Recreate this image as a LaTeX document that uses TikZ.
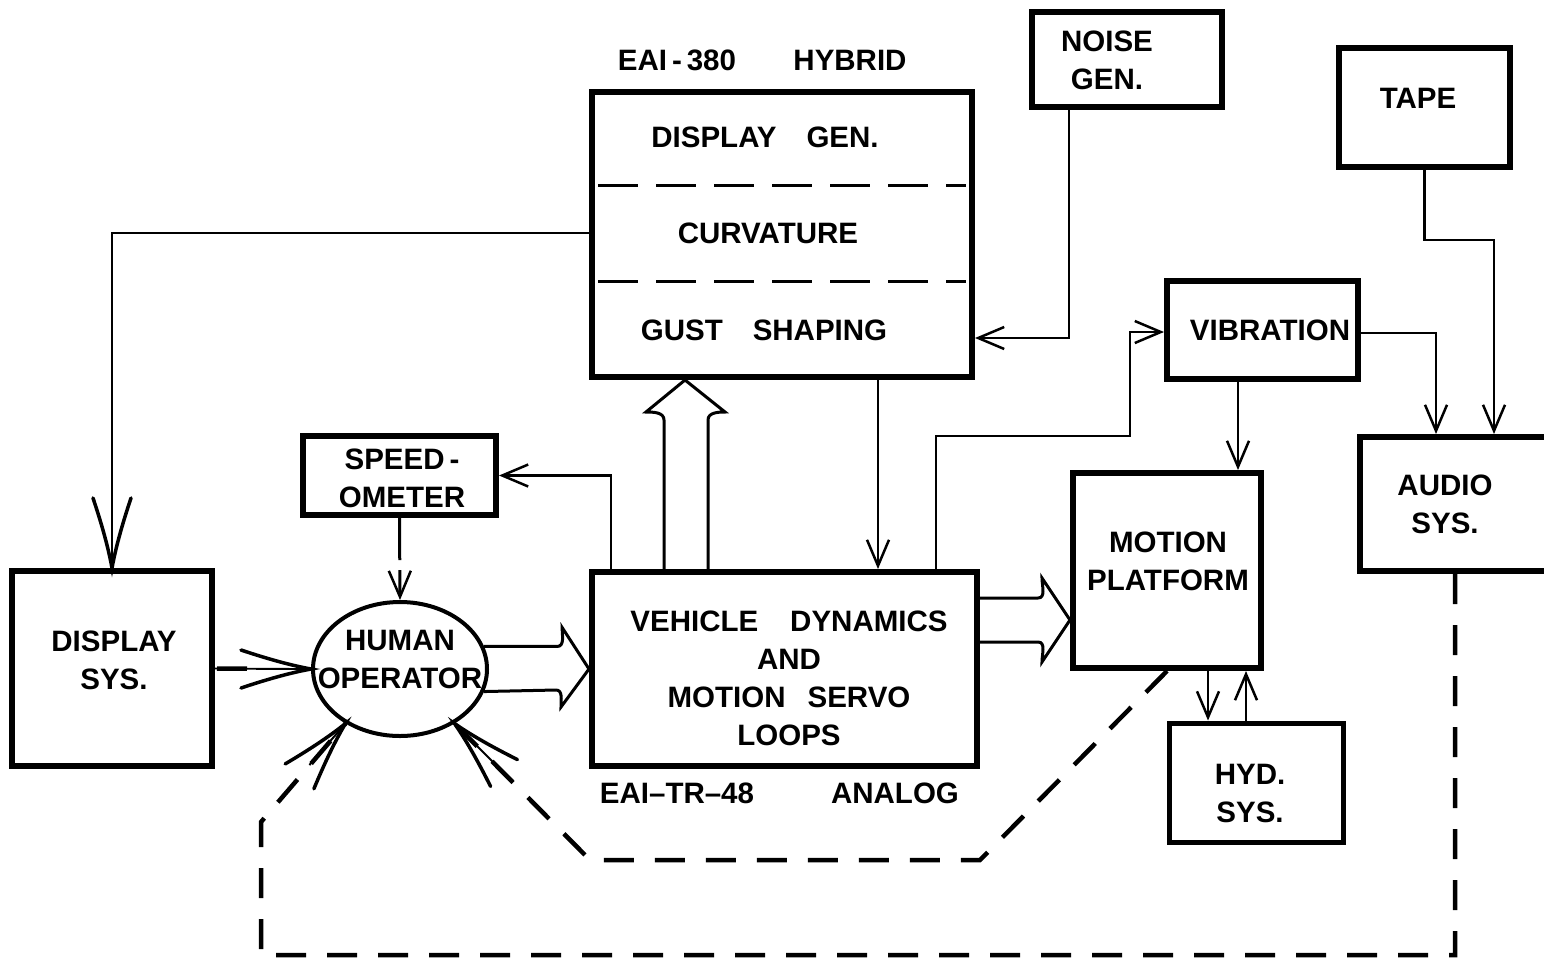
\documentclass[tikz,border=0pt]{standalone}
\usepackage{fontspec}
\setmainfont{Liberation Sans}
\usetikzlibrary{arrows.meta,calc,shapes.geometric}
\begin{document}
\begin{tikzpicture}[x=1pt,y=-1pt,
  box/.style={draw, line width=6pt, inner sep=0pt, rectangle},
  lbl/.style={font=\fontsize{29.5}{38}\selectfont\bfseries, align=center, inner sep=0pt},
  conn/.style={line width=2.5pt, -{Straight Barb[length=26pt,width=22pt,line width=2.5pt]}},
  plain/.style={line width=2.5pt},
  hollow/.style={line width=3pt, line join=miter},
  loopdash/.style={line width=4.5pt, dash pattern=on 30pt off 21pt},
  bigbarb/.pic={\draw[solid, line width=3.5pt, line cap=round] (-70,-19) .. controls (-46,-11) and (-22,-4) .. (0,0) .. controls (-22,4) and (-46,11) .. (-70,19);
                \draw[solid, line width=2pt] (-55,0) -- (0,0);}
]
\fill[white] (0,0) rectangle (1544,959);
\useasboundingbox (0,0) rectangle (1544,959);

% boxes
\node[box, minimum width=380pt, minimum height=285pt] (hyb) at (782,234.5) {};
\node[box, minimum width=190pt, minimum height=95pt] (noise) at (1127,59.5) {};
\node[box, minimum width=171pt, minimum height=119pt] (tape) at (1424.5,107.5) {};
\node[box, minimum width=191pt, minimum height=98pt] (vib) at (1262.5,330) {};
\node[box, minimum width=193pt, minimum height=79pt] (speedo) at (399.5,475.5) {};
\node[box, minimum width=200pt, minimum height=195pt] (dsys) at (112,668.5) {};
\node[box, minimum width=385pt, minimum height=194pt] (veh) at (784.5,669) {};
\node[box, minimum width=188pt, minimum height=195pt] (mp) at (1167,570.5) {};
\node[box, line width=5pt, minimum width=174pt, minimum height=119pt] (hyd) at (1256,782.5) {};
\node[box, minimum width=190pt, minimum height=134pt] (audio) at (1455,504) {};
\node[draw, ellipse, line width=4pt, inner sep=0pt, minimum width=174pt, minimum height=134pt] (human) at (400,669) {};

% hybrid dividers
\draw[line width=3pt, dash pattern=on 40pt off 18pt] ($(hyb.west)+(9,-49.5)$) -- ($(hyb.east)+(-9,-49.5)$);
\draw[line width=3pt, dash pattern=on 40pt off 18pt] ($(hyb.west)+(9,46.5)$) -- ($(hyb.east)+(-9,46.5)$);

% texts
\node[lbl] (eai) at (677,60) {EAI\,-\,380};
\node[lbl] (hybrid) at (850,60) {HYBRID};
\node[lbl] (dgen) at (765,137) {DISPLAY\hspace{30pt}GEN.};
\node[lbl] (curv) at (768,233) {CURVATURE};
\node[lbl] (gust) at (764,330) {GUST\hspace{30pt}SHAPING};
\node[lbl] (noisetxt) at (1107,60) {NOISE\\GEN.};
\node[lbl] (tapetxt) at (1418,98) {TAPE};
\node[lbl] (vibtxt) at (1270,330) {VIBRATION};
\node[lbl] (speedtxt) at (402,478) {SPEED\,-\\OMETER};
\node[lbl] (dsystxt) at (114,660) {DISPLAY\\SYS.};
\node[lbl] (humantxt) at (400,659) {HUMAN\\OPERATOR};
\node[lbl] (vehtxt) at (789,678) {VEHICLE\hspace{32pt}DYNAMICS\\AND\\MOTION\hspace{22pt}SERVO\\LOOPS};
\node[lbl] (trtxt) at (677,793) {EAI--TR--48};
\node[lbl] (analog) at (895,793) {ANALOG};
\node[lbl] (mptxt) at (1168,561) {MOTION\\PLATFORM};
\node[lbl] (hydtxt) at (1250,793) {HYD.\\SYS.};
\node[lbl] (audiotxt) at (1445,504) {AUDIO\\SYS.};

% thin connectors
\draw[plain] (curv -| hyb.west) -| (dsys.north);
\pic[rotate=-90] at (dsys.north) {bigbarb};
\draw[conn] ($(noise.south)+(-58,0)$) |- ($(hyb.east)+(0,103.5)$);
\draw[conn] (tape.south) -- ++(0,70) -| ($(audio.north)+(39,0)$);
\draw[conn] ($(vib.east)+(0,3)$) -| ($(audio.north)+(-19,0)$);
\draw[conn] ($(vib.south)+(-24.5,0)$) -- ($(mp.north)+(71,0)$);
\coordinate (c6) at (1130,436);
\draw[conn] ($(veh.north)+(151.5,0)$) |- (c6) |- ($(vib.west)+(0,2)$);
\draw[conn] ($(hyb.south)+(96,0)$) -- ($(veh.north)+(93.5,0)$);
\draw[conn] ($(veh.north)+(-173.5,0)$) |- (speedo.east);
\draw[conn] ($(mp.south)+(41,0)$) -- ($(hyd.north)+(-48,0)$);
\draw[conn] ($(hyd.north)+(-10,0)$) -- ($(mp.south)+(79,0)$);
\draw[line width=3pt, dash pattern=on 42pt off 10pt, -{Straight Barb[length=26pt,width=22pt,line width=2.5pt]}] (speedo.south) -- (human.north);

% display -> human
\draw[line width=1.8pt] (dsys.east) -- (human.west);
\draw[line width=4.5pt, shorten <=2pt, shorten >=64pt] (dsys.east) -- (human.west);
\pic at (human.west) {bigbarb};

% hollow block arrows
\draw[hollow] ($(veh.north)+(-120.5,0)$) -- ++(0,-149) to[out=90,in=0] ++(-18,-8)
   -- ($(hyb.south)+(-97,0)$) -- ++(40,32) to[out=180,in=90] ++(-17,8)
   -- ($(veh.north)+(-76.5,0)$);
\draw[hollow] (human.15) -- ++(73,0) to[out=0,in=-90] ++(5,-19)
   -- (veh.west) -- ++(-28,38) to[out=90,in=0] ++(-5,-17) -- (human.-15);
\draw[hollow] ($(veh.east)+(0,-71)$) -- ++(58,0) to[out=0,in=-90] ++(4,-20)
   -- ($(mp.west)+(0,49.5)$) -- ++(-28,42) to[out=90,in=0] ++(-4,-20)
   -- ($(veh.east)+(0,-27)$);

% dashed feedback loops
\coordinate (la1) at (1455,955);
\coordinate (la2) at (261,955);
\coordinate (la3) at (261,822);
\draw[loopdash] (audio.south) -- (la1) -- (la2) -- (la3) -- (human.225);
\pic[rotate=49] at (human.225) {bigbarb};
\coordinate (lb1) at (980,860);
\coordinate (lb2) at (590,860);
\draw[loopdash] (mp.south) -- (lb1) -- (lb2) -- (human.-45);
\pic[rotate=135] at (human.-45) {bigbarb};
\end{tikzpicture}
\end{document}
